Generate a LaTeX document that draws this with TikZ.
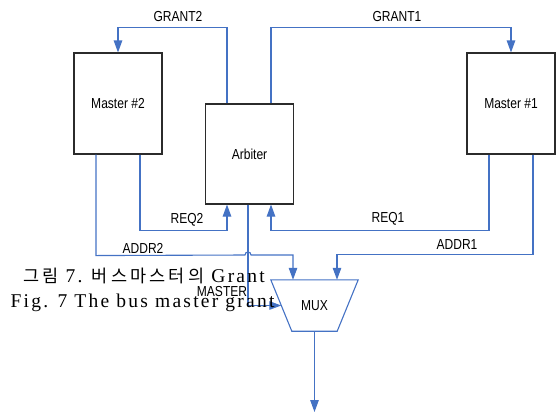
\documentclass[tikz,border=0pt]{standalone}
\usepackage{fontspec}
\setmainfont{Liberation Sans}[FakeStretch=0.83]
\newfontfamily\capfont{Liberation Serif}[LetterSpace=11.5]
\newfontfamily\cjk{Noto Sans CJK KR}[LetterSpace=18]
\usetikzlibrary{arrows.meta}
\definecolor{WireBlue}{HTML}{4472C4}
\definecolor{BoxGray}{HTML}{2B2B2B}

\begin{document}
\begin{tikzpicture}[x=1pt,y=-1pt,line join=miter,
  box/.style={draw=BoxGray,line width=1.1pt,minimum width=88pt,minimum height=101pt,inner sep=0pt,font=\fontsize{14.5}{16}\selectfont},
  wire/.style={draw=WireBlue,line width=1.1pt,-{Triangle[length=12pt,width=8.5pt]}},
  lbl/.style={inner sep=0pt,font=\fontsize{14.5}{16}\selectfont},
  captext/.style={inner sep=0pt,font=\capfont\fontsize{19.5}{22}\selectfont}]
  \useasboundingbox (0,0) rectangle (557,416);
  \node[box] (m2) at (118,103.5) {Master \#2};
  \node[box,minimum height=100pt] (arb) at (249.5,154) {Arbiter};
  \node[box] (m1) at (511,103.5) {Master \#1};
  \node[lbl,minimum width=87pt,minimum height=51pt] (mux) at (314.5,305.5) {MUX};
  \draw[WireBlue,line width=1.1pt] (mux.north west) -- (mux.north east) -- ([xshift=-21pt]mux.south east)
    -- ([xshift=21pt]mux.south west) -- cycle;
  \coordinate (out) at (314.5,412);
  % grants
  \draw[wire] ([xshift=-22.5pt]arb.north) -- ++(0,-76) -| (m2.north);
  \draw[wire] ([xshift=21.5pt]arb.north) -- ++(0,-76) -| (m1.north);
  % requests
  \draw[wire] ([xshift=22pt]m2.south) -- ++(0,76) -| ([xshift=-22.5pt]arb.south);
  \draw[wire] ([xshift=-22pt]m1.south) -- ++(0,76) -| ([xshift=21.5pt]arb.south);
  % addresses
  \draw[wire] ([xshift=-22pt]m2.south) -- ++(0,101) -- (245,255) .. controls (245,251) and (251,251) .. (251,255) -| ([xshift=-21.5pt]mux.north);
  \draw[wire] ([xshift=22pt]m1.south) -- ++(0,100) -| ([xshift=22.5pt]mux.north);
  \draw[wire] ([xshift=-1.5pt]arb.south) |- ([xshift=10.5pt]mux.west);
  \draw[wire] (mux.south) -- (out);
  \node[lbl] (lg2) at (178,17) {GRANT2};\node[lbl] (lg1) at (397,17) {GRANT1};
  \node[lbl] (lr2) at (187,220) {REQ2};\node[lbl] (lr1) at (388,219) {REQ1};
  \node[lbl] (la2) at (143,248) {ADDR2};\node[lbl] (la1) at (457,245) {ADDR1};
  \node[lbl] (lms) at (222,292) {MASTER};
  \node[captext] (capk) at (144,276) {{\cjk\fontsize{17.5}{20}\selectfont 그림} 7. {\cjk\fontsize{17.5}{20}\selectfont 버스마스터의} Grant};
  \node[captext] (cape) at (142.5,303) {Fig. 7 The bus master grant};
\end{tikzpicture}
\end{document}
